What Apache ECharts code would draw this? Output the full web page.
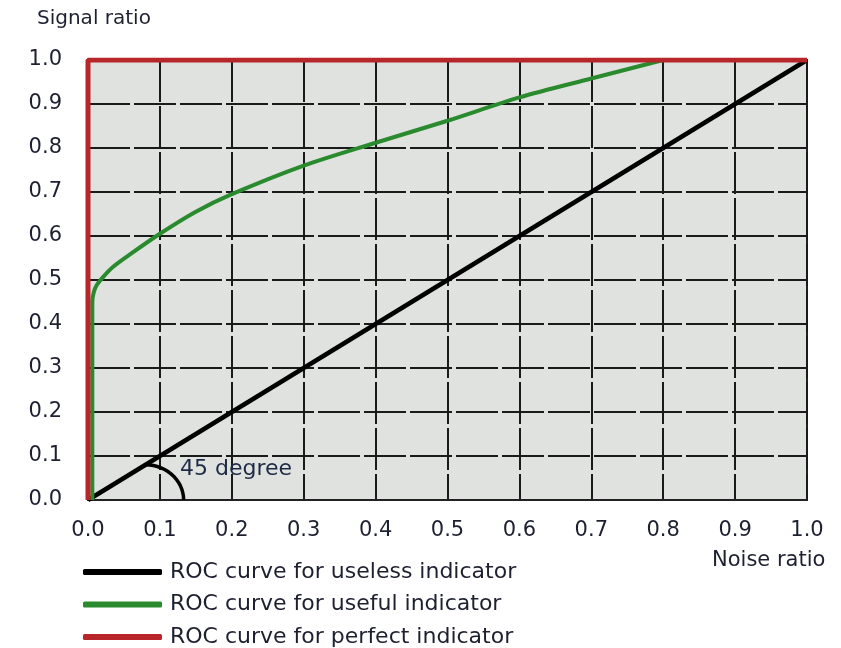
<!DOCTYPE html>
<html><head><meta charset="utf-8">
<script src="https://cdn.jsdelivr.net/npm/echarts@6/dist/echarts.min.js"></script>
<style>html,body{margin:0;padding:0;background:#fff}#c{width:841px;height:648px}</style>
</head><body><div id="c"></div>
<script>
// Data
const xTicks = [0.0,0.1,0.2,0.3,0.4,0.5,0.6,0.7,0.8,0.9,1.0];
const yTicks = [0.0,0.1,0.2,0.3,0.4,0.5,0.6,0.7,0.8,0.9,1.0];
const uselessX = [0, 1];
const uselessY = [0, 1];
const usefulX = [0.006, 0.006, 0.008, 0.012, 0.02, 0.035, 0.06, 0.1, 0.15, 0.2, 0.3, 0.4, 0.5, 0.6, 0.7, 0.8];
const usefulY = [0.0, 0.45, 0.472, 0.488, 0.505, 0.53, 0.56, 0.605, 0.655, 0.695, 0.76, 0.812, 0.862, 0.915, 0.958, 1.0];
const perfectX = [0, 0, 1];
const perfectY = [0, 1, 1];
const seriesNames = ['ROC curve for useless indicator','ROC curve for useful indicator','ROC curve for perfect indicator'];
const angleLabel = '45 degree';
const arcCenter = [0.08, 0];
const arcRadius = [0.053, 0.08];
const angleLabelAt = [0.128, 0.07];

const zip = (xs, ys) => xs.map((x, i) => [x, ys[i]]);
const arcPts = [];
for (let i = 0; i <= 30; i++) {
  const t = Math.PI / 2 * i / 30;
  arcPts.push([arcCenter[0] + arcRadius[0] * Math.sin(t), arcCenter[1] + arcRadius[1] * Math.cos(t)]);
}

const txt = '#1e2030';
const font = 'DejaVu Sans';
const chart = echarts.init(document.getElementById('c'));
const axisCommon = {
  type: 'value', min: 0, max: 1, interval: 0.1,
  axisLine: { show: true, lineStyle: { color: '#222', width: 2 } },
  axisTick: { show: false },
  splitLine: { show: true, lineStyle: { color: '#1a1a1a', width: 2, type: [42, 4] } },
  axisLabel: { color: txt, fontSize: 21, fontFamily: font, formatter: v => v.toFixed(1) }
};
const titles = [
  { type: 'text', left: 37, top: 9, style: { text: 'Signal ratio', fill: txt, font: '20px "DejaVu Sans"' } },
  { type: 'text', left: 712, top: 550, style: { text: 'Noise ratio', fill: txt, font: '21px "DejaVu Sans"' } }
];
chart.setOption({
  animation: false,
  grid: { left: 88, right: 34, top: 60, bottom: 148, show: true, backgroundColor: '#dfe2df', borderColor: '#222', borderWidth: 2 },
  xAxis: Object.assign({}, axisCommon, { axisLabel: Object.assign({}, axisCommon.axisLabel, { margin: 20 }) }),
  yAxis: Object.assign({}, axisCommon, { axisLabel: Object.assign({}, axisCommon.axisLabel, { margin: 26 }) }),
  legend: {
    orient: 'vertical', left: 83, top: 561, itemWidth: 79, itemHeight: 6, itemGap: 10.5, padding: 0,
    icon: 'roundRect',
    data: seriesNames,
    textStyle: { color: txt, fontSize: 22, fontFamily: font, padding: [0, 0, 0, 3] }
  },
  graphic: titles,
  series: [
    { name: seriesNames[0], type: 'line', data: zip(uselessX, uselessY), showSymbol: false, z: 3,
      lineStyle: { color: '#000', width: 4.5 }, itemStyle: { color: '#000' } },
    { name: seriesNames[1], type: 'line', data: zip(usefulX, usefulY), showSymbol: false, smooth: 0.3, z: 4,
      lineStyle: { color: '#2a8a2e', width: 4 }, itemStyle: { color: '#2a8a2e' } },
    { name: seriesNames[2], type: 'line', data: zip(perfectX, perfectY), showSymbol: false, z: 5,
      lineStyle: { color: '#b8262a', width: 5 }, itemStyle: { color: '#b8262a' } },
    { name: 'arc', type: 'line', data: arcPts, showSymbol: false, z: 3, silent: true,
      lineStyle: { color: '#000', width: 3.5 } }
  ]
});
const p = chart.convertToPixel({ gridIndex: 0 }, angleLabelAt);
chart.setOption({
  graphic: titles.concat([
    { type: 'text', x: p[0], y: p[1], z: 10, style: { text: angleLabel, fill: '#1e2a44', font: '22px "DejaVu Sans"', verticalAlign: 'middle' } }
  ])
});
</script></body></html>
